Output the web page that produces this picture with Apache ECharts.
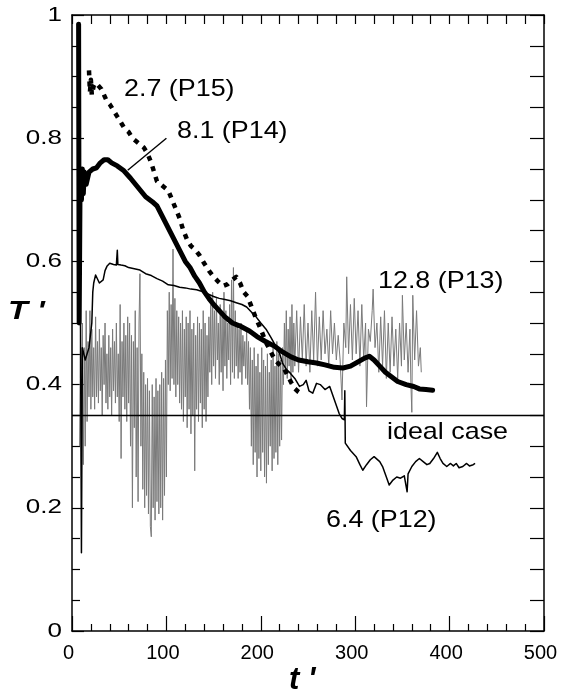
<!DOCTYPE html>
<html><head><meta charset="utf-8">
<script src="https://cdn.jsdelivr.net/npm/echarts@6/dist/echarts.min.js"></script>
<style>html,body{margin:0;padding:0;background:#fff}#c{width:563px;height:693px}</style>
</head><body><div id="c"></div>
<script>
// ---- data ----
const xTickLabels = ['0','100','200','300','400','500'];
const yTickValues = [0, 0.2, 0.4, 0.6, 0.8, 1];
const yTickLabels = ['0','0.2','0.4','0.6','0.8','1'];
const idealValue = 0.35;
const idealLine = [[0, idealValue], [500, idealValue]];
const seriesNames = ['2.7 (P15)', '8.1 (P14)', '12.8 (P13)', 'ideal case', '6.4 (P12)'];

const p14 = [[7,0.985],[7.6,0.50],[8.6,0.74],[10,0.70],[11,0.75],[12,0.71],[13,0.745],[15,0.725],[18,0.745],[22,0.75],[26,0.752],[30,0.76],[34,0.765],[38,0.765],[42,0.76],[48,0.755],[55,0.747],[62,0.735],[70,0.72],[78,0.705],[85,0.697],[90,0.69],[95,0.675],[100,0.66],[105,0.645],[110,0.63],[115,0.615],[120,0.60],[125,0.59],[130,0.576],[135,0.565],[140,0.551],[145,0.54],[150,0.53],[156,0.52],[162,0.51],[170,0.50],[178,0.495],[188,0.487],[196,0.478],[205,0.47],[215,0.462],[223,0.453],[232,0.445],[240,0.44],[250,0.437],[259,0.435],[268,0.432],[278,0.428],[287,0.427],[295,0.43],[303,0.437],[310,0.443],[315,0.446],[320,0.44],[326,0.43],[332,0.42],[338,0.413],[345,0.405],[354,0.40],[362,0.397],[368,0.393],[375,0.392],[382,0.391]];

const p15 = [[18,0.91],[19,0.875],[20,0.895],[21,0.87],[23,0.885],[25,0.89],[28,0.885],[31,0.88],[34,0.87],[37,0.86],[40,0.855],[44,0.845],[48,0.835],[52,0.825],[56,0.815],[60,0.81],[64,0.80],[68,0.795],[72,0.79],[76,0.785],[80,0.775],[84,0.76],[87,0.745],[90,0.73],[94,0.725],[98,0.72],[102,0.715],[106,0.70],[110,0.685],[114,0.67],[118,0.65],[122,0.635],[126,0.625],[130,0.62],[135,0.61],[140,0.597],[145,0.585],[150,0.575],[155,0.567],[160,0.56],[165,0.563],[170,0.57],[174,0.575],[178,0.565],[182,0.55],[186,0.543],[190,0.527],[195,0.507],[200,0.49],[205,0.47],[210,0.455],[215,0.44],[220,0.432],[225,0.425],[230,0.41],[235,0.395],[240,0.388],[245,0.383]];

const p12 = [[9,0.50],[10,0.127],[11,0.46],[14,0.44],[18,0.46],[21,0.50],[22,0.55],[23,0.565],[25,0.578],[27,0.575],[29,0.565],[31,0.567],[33,0.57],[35,0.585],[37,0.592],[40,0.597],[44,0.595],[47,0.594],[48,0.618],[48.6,0.595],[52,0.594],[56,0.593],[60,0.59],[66,0.588],[72,0.586],[78,0.58],[84,0.577],[90,0.572],[96,0.568],[102,0.562],[108,0.561],[114,0.558],[120,0.557],[126,0.555],[132,0.554],[138,0.551],[144,0.547],[150,0.543],[156,0.54],[162,0.538],[168,0.536],[174,0.533],[180,0.53],[185,0.526],[190,0.518],[195,0.51],[200,0.50],[206,0.489],[211,0.476],[216,0.462],[220,0.45],[223,0.435],[227,0.425],[231,0.419],[236,0.41],[241,0.397],[245,0.40],[248,0.407],[251,0.39],[255,0.386],[259,0.402],[263,0.40],[268,0.392],[273,0.397],[278,0.375],[283,0.353],[286,0.345],[288.5,0.343],[289,0.39],[289.5,0.305],[295,0.293],[301,0.283],[305,0.27],[308,0.261],[312,0.27],[316,0.278],[320,0.283],[322,0.28],[326,0.275],[329,0.267],[333,0.25],[336,0.237],[340,0.245],[344,0.25],[348,0.248],[352,0.252],[354,0.25],[355,0.226],[356,0.255],[360,0.267],[364,0.275],[368,0.28],[372,0.275],[376,0.27],[379,0.272],[383,0.28],[387,0.29],[390,0.28],[393,0.272],[397,0.267],[401,0.272],[404,0.268],[407,0.272],[410,0.265],[414,0.267],[418,0.272],[421,0.268],[425,0.27],[427,0.272]];

const p13 = [[8,0.30],[9,0.48],[10,0.25],[11,0.50],[12,0.27],[13,0.46],[14,0.30],[15,0.52],[16,0.34],[17,0.47],[18,0.38],[19,0.52],[20,0.36],[21,0.49],[22,0.38],[23,0.46],[24,0.36],[25,0.51],[26,0.38],[27,0.47],[28,0.37],[29,0.49],[30,0.39],[31,0.46],[32,0.35],[33,0.48],[34,0.40],[35,0.50],[36,0.37],[37,0.45],[38,0.36],[39,0.48],[40,0.38],[41,0.46],[42,0.35],[43,0.49],[44,0.39],[45,0.47],[46,0.37],[47,0.50],[48,0.38],[49,0.45],[50,0.34],[51,0.53],[52,0.28],[53,0.47],[54,0.38],[55,0.50],[56,0.36],[57,0.48],[58,0.34],[59,0.51],
[60,0.37],[61,0.50],[62,0.30],[63,0.48],[64,0.20],[65,0.47],[66,0.33],[67,0.52],[68,0.25],[69,0.46],[70,0.21],[71,0.50],[72,0.58],[73,0.30],[74,0.45],[75,0.23],[76,0.42],[77,0.20],[78,0.40],[79,0.22],[80,0.41],[81,0.19],[82,0.39],[83,0.17],[84,0.153],[85,0.40],[86,0.20],[87,0.38],[88,0.18],[89,0.41],[90,0.21],[91,0.39],[92,0.19],[93,0.40],[94,0.20],[95,0.42],[96,0.18],[97,0.41],[98,0.22],[99,0.44],[100,0.25],
[101,0.52],[102,0.40],[103,0.55],[104,0.39],[105,0.53],[106,0.41],[107,0.62],[108,0.40],[109,0.54],[110,0.38],[111,0.52],[112,0.40],[113,0.51],[114,0.37],[115,0.50],[116,0.36],[117,0.52],[118,0.34],[119,0.49],[120,0.38],[121,0.51],[122,0.33],[123,0.50],[124,0.36],[125,0.52],[126,0.32],[127,0.49],[128,0.35],[129,0.50],[130,0.26],[131,0.48],[132,0.36],[133,0.51],[134,0.34],[135,0.50],[136,0.37],[137,0.49],[138,0.33],[139,0.52],[140,0.36],[141,0.50],[142,0.34],[143,0.48],[144,0.38],[145,0.51],
[146,0.42],[147,0.53],[148,0.40],[149,0.55],[150,0.43],[151,0.52],[152,0.41],[153,0.54],[154,0.44],[155,0.50],[156,0.40],[157,0.53],[158,0.42],[159,0.51],[160,0.39],[161,0.55],[162,0.43],[163,0.52],[164,0.41],[165,0.50],[166,0.44],[167,0.53],[168,0.40],[169,0.57],[170,0.42],[171,0.59],[172,0.41],[173,0.52],[174,0.43],[175,0.50],
[176,0.41],[177,0.49],[178,0.42],[179,0.50],[180,0.40],[181,0.48],[182,0.43],[183,0.47],[184,0.41],[185,0.49],[186,0.40],[187,0.47],[188,0.36],[189,0.46],
[190,0.30],[191,0.44],[192,0.27],[193,0.46],[194,0.29],[195,0.43],[196,0.25],[197,0.45],[198,0.28],[199,0.42],[200,0.26],[201,0.46],[202,0.29],[203,0.44],[204,0.25],[205,0.43],[206,0.24],[207,0.45],[208,0.27],[209,0.42],[210,0.30],[211,0.44],[212,0.26],[213,0.46],[214,0.28],[215,0.43],[216,0.29],[217,0.47],[218,0.27],[219,0.45],[220,0.30],[221,0.44],[222,0.31],[223,0.46],
[224,0.40],[225,0.50],[226,0.42],[227,0.52],[228,0.41],[229,0.49],[230,0.43],[231,0.51],[232,0.40],[233,0.53],[234,0.42],[235,0.50],
[236,0.43],[238,0.52],[240,0.42],[242,0.51],[244,0.44],[246,0.53],[248,0.43],[250,0.50],[252,0.42],[254,0.52],[256,0.44],[258,0.55],[260,0.43],[262,0.51],[264,0.44],[266,0.52],[268,0.45],[270,0.49],[272,0.43],[274,0.52],[276,0.45],[278,0.50],[280,0.44],
[282,0.48],[284,0.44],[286,0.375],[288,0.50],[290,0.46],[291,0.575],[293,0.45],[295,0.53],[297,0.44],[299,0.54],[301,0.45],[303,0.52],[305,0.43],[307,0.53],[309,0.44],[311,0.50],[312,0.364],[314,0.49],[316,0.47],[318,0.52],[319,0.555],[321,0.46],
[323,0.50],[325,0.42],[327,0.51],[329,0.43],[331,0.52],[333,0.41],[335,0.50],[337,0.42],[339,0.51],[341,0.43],[343,0.49],[345,0.41],[347,0.50],[349,0.43],[350,0.545],[352,0.44],[354,0.50],[356,0.42],[358,0.49],[359,0.40],[360,0.355],[361,0.545],[363,0.44],[365,0.52],[367,0.43],[369,0.46],[370,0.42]];

const leader = [[59,0.748],[100,0.80]];

// ---- chart ----
const chart = echarts.init(document.getElementById('c'), null, {renderer:'canvas'});
const FONT = '"Liberation Sans", Arial, Helvetica, sans-serif';
const axisLine = {show:true, onZero:false, lineStyle:{color:'#000', width:1.5}};
const tickStyle = {color:'#000', width:1.2};

const option = {
  animation: false,
  backgroundColor: '#fff',
  grid: {left:72, right:19, top:15, bottom:62},
  xAxis: [
    {type:'value', min:0, max:500, interval:100, position:'bottom',
     axisLine, splitLine:{show:false},
     axisTick:{show:true, inside:true, length:15, lineStyle:tickStyle},
     minorTick:{show:true, splitNumber:5, length:7, lineStyle:tickStyle},
     axisLabel:{show:true, margin:12, fontSize:20, fontFamily:FONT, color:'#000', padding:[0,7,0,0],
       formatter:(v)=>xTickLabels[Math.round(v/100)]}},
    {type:'value', min:0, max:500, interval:20, position:'top',
     axisLine, splitLine:{show:false},
     axisTick:{show:true, inside:true, length:9, lineStyle:tickStyle},
     axisLabel:{show:false}}
  ],
  yAxis: [
    {type:'value', min:0, max:1, interval:0.2, position:'left',
     axisLine, splitLine:{show:false},
     axisTick:{show:true, inside:true, length:12, lineStyle:tickStyle},
     minorTick:{show:true, splitNumber:4, length:8, lineStyle:tickStyle},
     axisLabel:{show:false}},
    {type:'value', min:0, max:1, interval:0.05, position:'right',
     axisLine, splitLine:{show:false},
     axisTick:{show:true, inside:true, length:14, lineStyle:tickStyle},
     axisLabel:{show:false}}
  ],
  series: [
    {name:seriesNames[2], type:'line', data:p13, showSymbol:false, silent:true,
     lineStyle:{color:'#7a7a7a', width:1, join:'bevel'}},
    {name:seriesNames[3], type:'line', data:idealLine, showSymbol:false, silent:true,
     lineStyle:{color:'#000', width:1.5}},
    {name:seriesNames[4], type:'line', data:p12, showSymbol:false, silent:true,
     lineStyle:{color:'#000', width:1.5, join:'round'}},
    {name:seriesNames[0], type:'line', data:p15, showSymbol:false, silent:true,
     lineStyle:{color:'#000', width:4.5, type:[5,6], join:'round'}},
    {name:seriesNames[1], type:'line', data:p14, showSymbol:false, silent:true,
     lineStyle:{color:'#000', width:5, join:'round', cap:'round'}},
    {name:'leader', type:'line', data:leader, showSymbol:false, silent:true,
     lineStyle:{color:'#000', width:1.4}}
  ]
};
chart.setOption(option);

// text annotations (real text)
const labelText = (text, x, y) => ({type:'text', x, y, scaleX:1.12, silent:true,
  style:{text, fontSize:24, fontFamily:FONT, fill:'#000', align:'left', verticalAlign:'middle'}});

const graphics = [
  labelText(seriesNames[0], 124, 89),
  labelText(seriesNames[1], 177, 131),
  labelText(seriesNames[2], 378, 281),
  labelText(seriesNames[3], 387, 432),
  labelText(seriesNames[4], 326, 520),
  {type:'text', x:8, y:312, scaleX:1.25, silent:true,
   style:{text:"T '", fontSize:26, fontStyle:'italic', fontWeight:'bold', fontFamily:FONT, fill:'#000', align:'left', verticalAlign:'middle'}},
  {type:'text', x:289, y:680, silent:true,
   style:{text:"t '", fontSize:31, fontStyle:'italic', fontWeight:'bold', fontFamily:FONT, fill:'#000', align:'left', verticalAlign:'middle'}}
];
yTickValues.forEach((v, i) => {
  const p = chart.convertToPixel({xAxisIndex:0, yAxisIndex:0}, [0, v]);
  graphics.push({type:'text', x:p[0]-10, y:p[1], scaleX:1.3, silent:true,
    style:{text:yTickLabels[i], fontSize:20, fontFamily:FONT, fill:'#000', align:'right', verticalAlign:'middle'}});
});
chart.setOption({graphic: graphics});
</script></body></html>
